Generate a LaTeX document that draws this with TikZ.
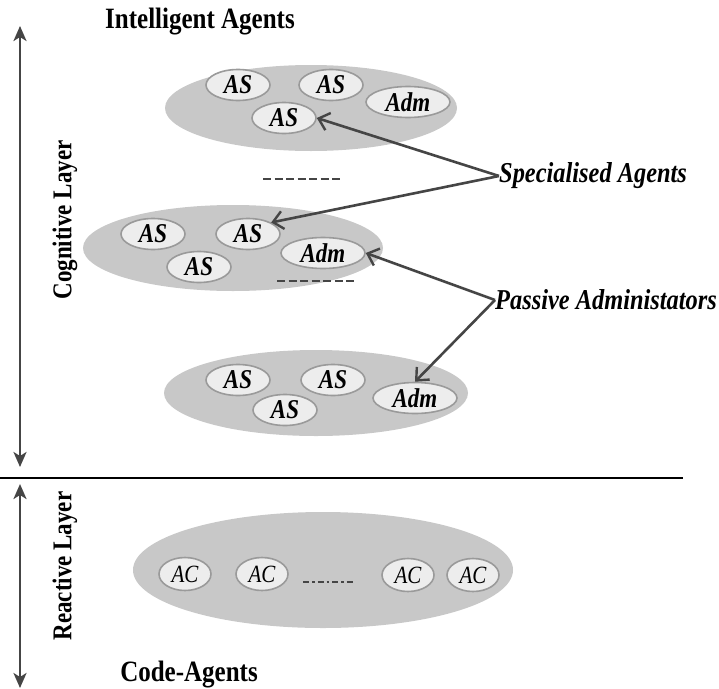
\documentclass[tikz,border=0pt]{standalone}
\usepackage{fontspec}
\usepackage{graphicx}
\setmainfont{Liberation Serif}
\usetikzlibrary{arrows.meta,shapes.geometric}
\newcommand\talltext[1]{\scalebox{1}[1.18]{#1}}
\definecolor{biggray}{HTML}{C8C8C8}
\definecolor{smallfill}{HTML}{EDEDED}
\definecolor{smallline}{HTML}{9A9A9A}
\definecolor{arrowgray}{HTML}{454545}
\tikzset{
  group/.style={ellipse, fill=biggray, draw=none, inner sep=0pt},
  agent/.style={ellipse, fill=smallfill, draw=smallline, line width=1.6pt, inner sep=0pt, minimum width=64pt, minimum height=31pt, font=\fontsize{23}{23}\selectfont\bfseries\itshape},
  adm/.style={agent, minimum width=84pt},
  code/.style={ellipse, fill=smallfill, draw=smallline, line width=1.6pt, inner sep=0pt, minimum width=52pt, minimum height=33pt, font=\fontsize{21}{21}\selectfont\itshape},
  pointer/.style={draw=arrowgray, line width=2.6pt, -{Straight Barb[length=10pt,width=18pt,line width=2.4pt]}},
  layerarrow/.style={draw=arrowgray, line width=2.6pt, {Stealth[length=15pt,width=13pt,inset=4pt]}-{Stealth[length=15pt,width=13pt,inset=4pt]}},
  label/.style={font=\fontsize{24.4}{24.4}\selectfont\bfseries\itshape, inner sep=0pt},
  title/.style={font=\fontsize{25}{25}\selectfont\bfseries, inner sep=0pt},
  layer/.style={font=\fontsize{23}{23}\selectfont\bfseries, inner sep=0pt, rotate=90},
  sepdash/.style={draw=arrowgray, line width=2.4pt, dash pattern=on 8pt off 3.5pt},
}
\begin{document}
\begin{tikzpicture}[x=1pt,y=-1pt]
\useasboundingbox (0,0) rectangle (719,688);
% big groups
\node[group, minimum width=292pt, minimum height=86pt] (g1) at (311,108) {};
\node[group, minimum width=300pt, minimum height=86pt] (g2) at (233,248) {};
\node[group, minimum width=304pt, minimum height=86pt] (g3) at (316,393) {};
\node[group, minimum width=380pt, minimum height=116pt] (g4) at (323,570) {};
% top group
\node[agent] (a11) at (238,85) {\talltext{AS}};
\node[agent] (a12) at (331,85) {\talltext{AS}};
\node[adm] (a13) at (408,102) {\talltext{Adm}};
\node[agent] (a14) at (284,118) {\talltext{AS}};
% middle group
\node[agent] (a21) at (153,234) {\talltext{AS}};
\node[agent] (a22) at (248,234) {\talltext{AS}};
\node[agent] (a23) at (199,267) {\talltext{AS}};
\node[adm] (a24) at (323,253) {\talltext{Adm}};
% bottom group
\node[agent] (a31) at (238,380) {\talltext{AS}};
\node[agent] (a32) at (333,380) {\talltext{AS}};
\node[agent] (a33) at (285,410) {\talltext{AS}};
\node[adm] (a34) at (415,398) {\talltext{Adm}};
% code agents
\node[code] (c1) at (185,574) {\talltext{AC}};
\node[code] (c2) at (262,574) {\talltext{AC}};
\node[code] (c3) at (408,575) {\talltext{AC}};
\node[code] (c4) at (473,575) {\talltext{AC}};
\coordinate (cd1) at (303,582);
\coordinate (cd2) at (354,582);
\draw[draw=arrowgray, line width=2.2pt, dash pattern=on 6pt off 3pt on 2.5pt off 3pt] (cd1) -- (cd2);
% dashes between groups
\coordinate (d1a) at (263,179);
\coordinate (d1b) at (340,179);
\coordinate (d2a) at (277,281);
\coordinate (d2b) at (354,281);
\draw[sepdash] (d1a) -- (d1b);
\draw[sepdash] (d2a) -- (d2b);
% labels
\node[label, anchor=west] (spec) at (499,176) {\talltext{Specialised Agents}};
\node[label, anchor=west] (pass) at (495,300) {\talltext{Passive Administators}};
\node[title] (ia) at (200,22) {\talltext{Intelligent Agents}};
\node[title] (ca) at (189,675) {\talltext{Code-Agents}};
% pointers
\draw[pointer] (spec.west) -- (a14.east);
\draw[pointer] (spec.west) -- (a22.north east);
\draw[pointer] (pass.west) -- (a24.east);
\draw[pointer] (pass.west) -- (a34.north);
% separator
\coordinate (s1) at (0,478);
\coordinate (s2) at (683,478);
\draw[line width=1.6pt] (s1) -- (s2);
% layer arrows
\coordinate (l1t) at (20,26);
\coordinate (l1b) at (20,467);
\coordinate (l2t) at (20,484);
\coordinate (l2b) at (20,688);
\draw[layerarrow] (l1t) -- (l1b);
\draw[layerarrow] (l2t) -- (l2b);
\node[layer] (cog) at (65,220) {\talltext{Cognitive Layer}};
\node[layer] (rea) at (65,566) {\talltext{Reactive Layer}};
\end{tikzpicture}
\end{document}
